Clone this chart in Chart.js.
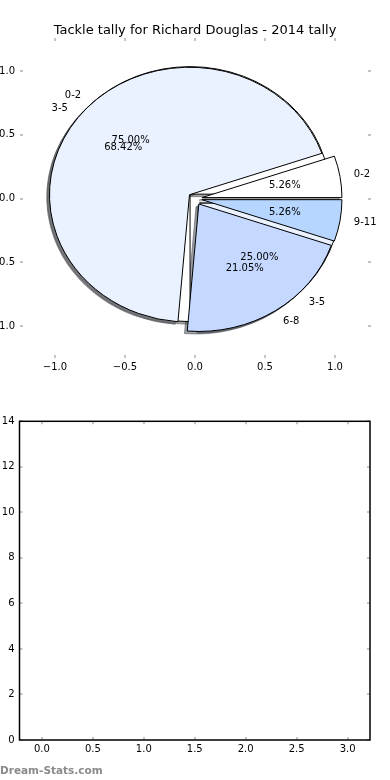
<!DOCTYPE html>
<html>
<head>
<meta charset="utf-8">
<title>Tackle tally for Richard Douglas - 2014 tally</title>
<script src="https://cdn.jsdelivr.net/npm/chart.js@4.4.1/dist/chart.umd.min.js"></script>
<style>
  html, body { margin: 0; padding: 0; background: #fff; }
  body { width: 390px; height: 780px; position: relative; overflow: hidden; }
  #pieWrap { position: absolute; left: 0; top: 0; width: 390px; height: 380px; }
  #lowerWrap { position: absolute; left: 0; top: 380px; width: 390px; height: 400px; }
</style>
</head>
<body>
<div id="pieWrap"><canvas id="pieChart" width="390" height="380"></canvas></div>
<div id="lowerWrap"><canvas id="lowerChart" width="390" height="400"></canvas></div>
<script>
// tallies (two pies drawn on top of each other, like the original)
const firstLabels = ['0-2', '3-5'];
const firstTackles = [3, 1];
const secondLabels = ['0-2', '3-5', '6-8', '9-11'];
const secondTackles = [1, 13, 4, 1];
const sliceColors = ['#FFFFFF', '#EAF1FF', '#C5D8FF', '#B6D5FF'];

// tick labels
const pieTicks = [-1.0, -0.5, 0.0, 0.5, 1.0];
const lowerXTicks = [0.0, 0.5, 1.0, 1.5, 2.0, 2.5, 3.0];
const lowerYTicks = [0, 2, 4, 6, 8, 10, 12, 14];

const EXPLODE = 0.05;
const FONT = '"DejaVu Sans", "Liberation Sans", sans-serif';

Chart.defaults.font.family = FONT;
Chart.defaults.font.size = 10;
Chart.defaults.color = '#000';

const fmt1 = v => (v < 0 ? '\u2212' : '') + Math.abs(v).toFixed(1);

function makeWedges(values) {
    const total = values.reduce((a, b) => a + b, 0);
    let start = 0;
    return values.map((v, i) => {
        const frac = v / total;
        const w = {
            t1: start * 2 * Math.PI,
            t2: (start + frac) * 2 * Math.PI,
            frac: frac,
            color: sliceColors[i]
        };
        w.mid = (w.t1 + w.t2) / 2;
        start += frac;
        return w;
    });
}

function tracePath(ctx, xs, ys, w, dx, dy) {
    const cx = EXPLODE * Math.cos(w.mid) + dx;
    const cy = EXPLODE * Math.sin(w.mid) + dy;
    const px = xs.getPixelForValue(cx), py = ys.getPixelForValue(cy);
    const rx = xs.getPixelForValue(cx + 1) - px;
    const ry = py - ys.getPixelForValue(cy + 1);
    ctx.beginPath();
    ctx.moveTo(px, py);
    ctx.ellipse(px, py, rx, ry, 0, -w.t1, -w.t2, true);
    ctx.closePath();
}

function hexRgb(hex) {
    const n = parseInt(hex.slice(1), 16);
    return [(n >> 16) & 255, (n >> 8) & 255, n & 255];
}

// pie slices, drawn through the chart's x/y scales
const piePlugin = {
    id: 'overlaidPies',
    beforeDatasetsDraw(chart) {
        const { ctx, scales: { x, y } } = chart;
        const pies = [
            { wedges: makeWedges(firstTackles), labels: firstLabels },
            { wedges: makeWedges(secondTackles), labels: secondLabels }
        ];
        ctx.save();
        ctx.lineWidth = 1;
        ctx.lineJoin = 'miter';

        // shadows go under everything
        pies.forEach(p => p.wedges.forEach(w => {
            const [r, g, b] = hexRgb(w.color);
            const shade = `rgba(${Math.round(r * 0.3)}, ${Math.round(g * 0.3)}, ${Math.round(b * 0.3)}, 0.5)`;
            tracePath(ctx, x, y, w, -0.02, -0.02);
            ctx.fillStyle = shade;
            ctx.fill();
            ctx.strokeStyle = shade;
            ctx.stroke();
        }));

        pies.forEach(p => p.wedges.forEach(w => {
            tracePath(ctx, x, y, w, 0, 0);
            ctx.fillStyle = w.color;
            ctx.fill();
            ctx.strokeStyle = '#000';
            ctx.stroke();
        }));

        ctx.fillStyle = '#000';
        ctx.font = '10px ' + FONT;
        ctx.textBaseline = 'middle';
        pies.forEach(p => p.wedges.forEach((w, i) => {
            const c = Math.cos(w.mid), s = Math.sin(w.mid);
            const cx = EXPLODE * c, cy = EXPLODE * s;
            const lx = cx + 1.1 * c, ly = cy + 1.1 * s;
            ctx.textAlign = lx > 0 ? 'left' : 'right';
            ctx.fillText(p.labels[i], x.getPixelForValue(lx), y.getPixelForValue(ly));
            ctx.textAlign = 'center';
            ctx.fillText((w.frac * 100).toFixed(2) + '%',
                x.getPixelForValue(cx + 0.6 * c), y.getPixelForValue(cy + 0.6 * s));
        }));
        ctx.restore();
    }
};

// matplotlib style ticks pointing inwards, on all four sides
const innerTicks = {
    id: 'innerTicks',
    afterDraw(chart, args, opts) {
        const { ctx, chartArea: a, scales: { x, y } } = chart;
        ctx.save();
        ctx.strokeStyle = '#c4c4c4';
        ctx.lineWidth = 2;
        ctx.beginPath();
        x.ticks.forEach(t => {
            const px = Math.round(x.getPixelForValue(t.value));
            ctx.moveTo(px, a.top); ctx.lineTo(px, a.top + 3);
            ctx.moveTo(px, a.bottom); ctx.lineTo(px, a.bottom - 3);
        });
        y.ticks.forEach(t => {
            const py = Math.round(y.getPixelForValue(t.value));
            ctx.moveTo(a.left, py); ctx.lineTo(a.left + 3, py);
            ctx.moveTo(a.right, py); ctx.lineTo(a.right - 3, py);
        });
        ctx.stroke();
        if (opts.frame) {
            ctx.strokeStyle = '#000';
            ctx.lineWidth = 1.5;
            ctx.strokeRect(a.left, a.top, a.right - a.left, a.bottom - a.top);
        }
        if (opts.credit) {
            ctx.fillStyle = '#8a8a8a';
            ctx.font = 'bold 10.5px ' + FONT;
            ctx.textAlign = 'left';
            ctx.textBaseline = 'alphabetic';
            ctx.fillText(opts.credit, 0, chart.height - 6);
        }
        ctx.restore();
    }
};

function axis(min, max, tickValues, fmt, fitFn) {
    return {
        type: 'linear',
        min: min,
        max: max,
        afterBuildTicks: s => { s.ticks = tickValues.map(v => ({ value: v })); },
        afterFit: fitFn,
        grid: { display: false, drawTicks: false },
        border: { display: false },
        ticks: { color: '#000', font: { size: 10 }, padding: 5, autoSkip: false, maxRotation: 0, callback: fmt }
    };
}

// empty strip on the right so the plot area stops where the original's does
function rightGap(width) {
    return {
        type: 'linear',
        position: 'right',
        display: true,
        afterFit: s => { s.width = width; },
        grid: { display: false, drawTicks: false },
        border: { display: false },
        ticks: { display: false }
    };
}

document.addEventListener('DOMContentLoaded', () => {
    const pieX = axis(-1.25, 1.257, pieTicks, fmt1, s => { s.height = 22; });
    pieX.ticks.padding = 3;
    const pieY = axis(-1.25, 1.26, pieTicks, fmt1, s => { s.width = 20; });

    new Chart(document.getElementById('pieChart'), {
        type: 'scatter',
        data: { datasets: [] },
        options: {
            responsive: false,
            animation: false,
            devicePixelRatio: 1,
            layout: { padding: 0 },
            scales: { x: pieX, y: pieY, yRight: rightGap(19) },
            plugins: {
                legend: { display: false },
                tooltip: { enabled: false },
                title: {
                    display: true,
                    text: 'Tackle tally for Richard Douglas - 2014 tally',
                    color: '#000',
                    font: { size: 13, weight: 'normal', family: FONT },
                    padding: { top: 22.4, bottom: 0 }
                },
                innerTicks: { frame: false }
            }
        },
        plugins: [piePlugin, innerTicks]
    });

    const lowX = axis(-0.22, 3.22, lowerXTicks, fmt1, s => { s.height = 40; });
    lowX.ticks.padding = 3;
    const lowY = axis(0, 14, lowerYTicks, v => String(v), s => { s.width = 19.5; });

    new Chart(document.getElementById('lowerChart'), {
        type: 'scatter',
        data: { datasets: [] },
        options: {
            responsive: false,
            animation: false,
            devicePixelRatio: 1,
            layout: { padding: { left: 0, right: 0, top: 41.3, bottom: 0 } },
            scales: { x: lowX, y: lowY, yRight: rightGap(20) },
            plugins: {
                legend: { display: false },
                tooltip: { enabled: false },
                innerTicks: { frame: true, credit: 'Dream-Stats.com' }
            }
        },
        plugins: [innerTicks]
    });
});
</script>
</body>
</html>
